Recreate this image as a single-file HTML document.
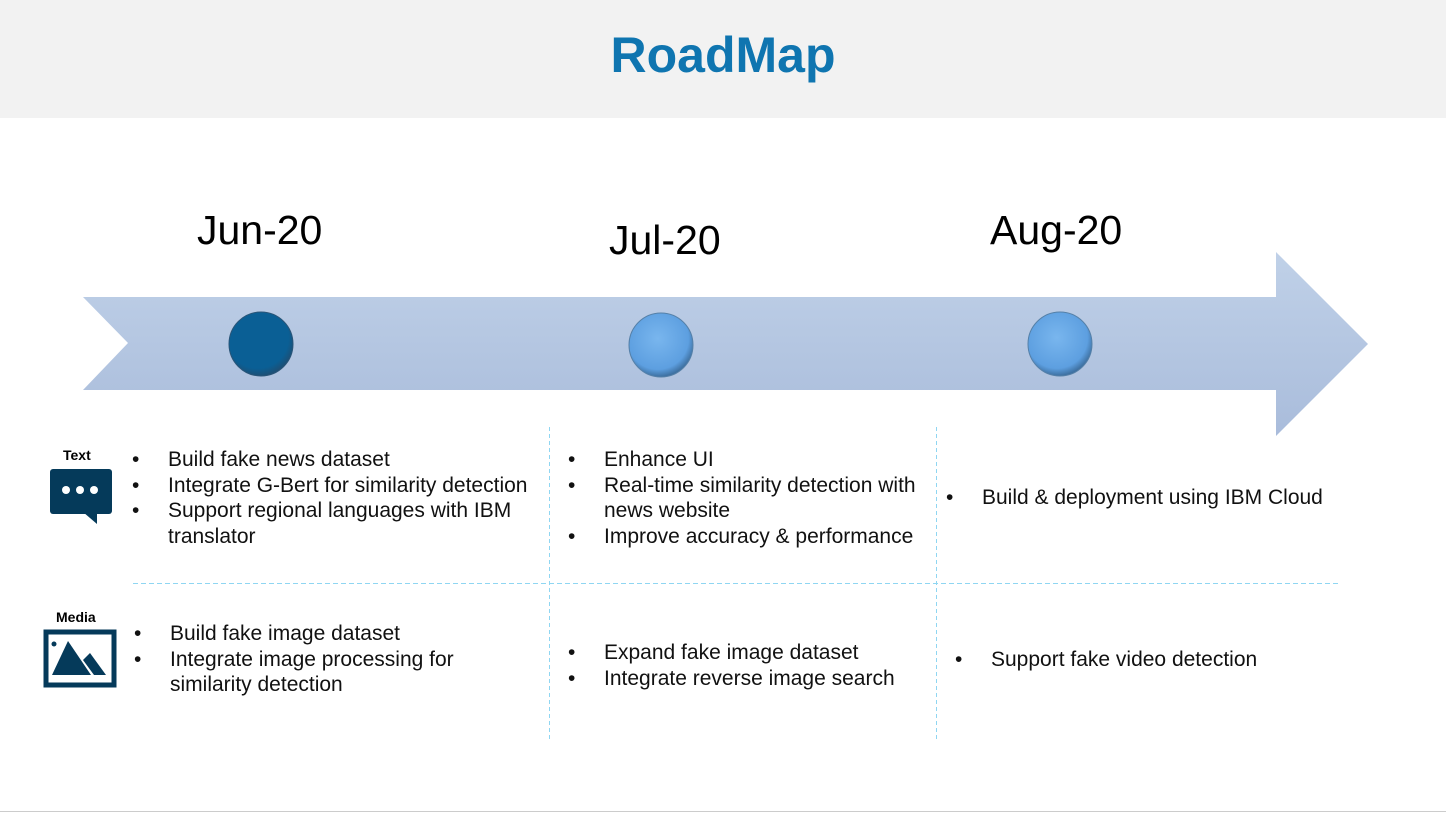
<!DOCTYPE html>
<html><head><style>
body{margin:0;width:1446px;height:813px;position:relative;background:#fff;font-family:"Liberation Sans",sans-serif;overflow:hidden}
.hdr{position:absolute;left:0;top:0;width:1446px;height:118px;background:#f2f2f2}
.title{position:absolute;top:26px;left:0;width:1446px;text-align:center;font-size:50px;font-weight:bold;color:#0f75b0}
.mo{position:absolute;font-size:41px;color:#000}
.t{position:absolute;font-size:21px;line-height:25.5px;color:#111;white-space:nowrap}
.lbl{position:absolute;font-size:14px;font-weight:bold;color:#000}
.vl{position:absolute;width:1px;background:repeating-linear-gradient(to bottom,#8fd6f2 0 4px,transparent 4px 7px)}
.hl{position:absolute;height:1px;background:repeating-linear-gradient(to right,#8fd6f2 0 5px,transparent 5px 8px)}
</style></head><body>
<div class="hdr"></div>
<div class="title">RoadMap</div>
<div class="mo" style="left:197px;top:207px">Jun-20</div>
<div class="mo" style="left:609px;top:217px">Jul-20</div>
<div class="mo" style="left:990px;top:207px">Aug-20</div>
<svg style="position:absolute;left:0;top:0" width="1446" height="813">
<defs>
<linearGradient id="ag" x1="0" y1="0" x2="0" y2="1"><stop offset="0" stop-color="#c0d1e8"/><stop offset="1" stop-color="#a9bcdb"/></linearGradient>
<radialGradient id="d1" cx="0.45" cy="0.4" r="0.6"><stop offset="0" stop-color="#0a5f95"/><stop offset="0.8" stop-color="#0a5f95"/><stop offset="1" stop-color="#1d4f75"/></radialGradient>
<radialGradient id="d2" cx="0.45" cy="0.4" r="0.6"><stop offset="0" stop-color="#79b6ee"/><stop offset="0.8" stop-color="#5d9fe0"/><stop offset="1" stop-color="#3d6f9f"/></radialGradient>
</defs>
<polygon points="83,297 1276,297 1276,252 1368,344 1276,436 1276,390 83,390 128,343" fill="url(#ag)"/>
<ellipse cx="261" cy="344" rx="32" ry="32" fill="url(#d1)" stroke="#2a5578" stroke-width="1"/>
<ellipse cx="661" cy="345" rx="32" ry="32" fill="url(#d2)" stroke="#5580a8" stroke-width="1"/>
<ellipse cx="1060" cy="344" rx="32" ry="32" fill="url(#d2)" stroke="#5580a8" stroke-width="1"/>
<rect x="50" y="469" width="62" height="45" rx="3" fill="#053a5a"/>
<polygon points="83,512 97,512 97,524" fill="#053a5a"/>
<circle cx="66" cy="490" r="4" fill="#fff"/><circle cx="80" cy="490" r="4" fill="#fff"/><circle cx="94" cy="490" r="4" fill="#fff"/>
<rect x="46" y="632" width="68" height="53" fill="none" stroke="#053a5a" stroke-width="5"/>
<polygon points="52,675 68,641 91,675" fill="#053a5a"/>
<polygon points="83,660 90,653 106,675 94,675" fill="#053a5a"/>
<circle cx="54" cy="644" r="2.5" fill="#053a5a"/>
</svg>
<div class="lbl" style="left:63px;top:447px">Text</div>
<div class="lbl" style="left:56px;top:609px">Media</div>
<div class="vl" style="left:549px;top:427px;height:314px"></div>
<div class="vl" style="left:936px;top:427px;height:314px"></div>
<div class="hl" style="left:133px;top:583px;width:1208px"></div>

<div class="t" style="left:132px;top:447px">•<br>•<br>•</div>
<div class="t" style="left:168px;top:447px">Build fake news dataset<br>Integrate G-Bert for similarity detection<br>Support regional languages with IBM<br>translator</div>
<div class="t" style="left:568px;top:447px">•<br>•<br><br>•</div>
<div class="t" style="left:604px;top:447px">Enhance UI<br>Real-time similarity detection with<br>news website<br>Improve accuracy &amp; performance</div>
<div class="t" style="left:946px;top:485px">•</div>
<div class="t" style="left:982px;top:485px">Build &amp; deployment using IBM Cloud</div>

<div class="t" style="left:134px;top:621px">•<br>•</div>
<div class="t" style="left:170px;top:621px">Build fake image dataset<br>Integrate image processing for<br>similarity detection</div>
<div class="t" style="left:568px;top:640px">•<br>•</div>
<div class="t" style="left:604px;top:640px">Expand fake image dataset<br>Integrate reverse image search</div>
<div class="t" style="left:955px;top:647px">•</div>
<div class="t" style="left:991px;top:647px">Support fake video detection</div>
<div style="position:absolute;left:0;top:811px;width:1446px;height:1px;background:#ccc"></div>
</body></html>
